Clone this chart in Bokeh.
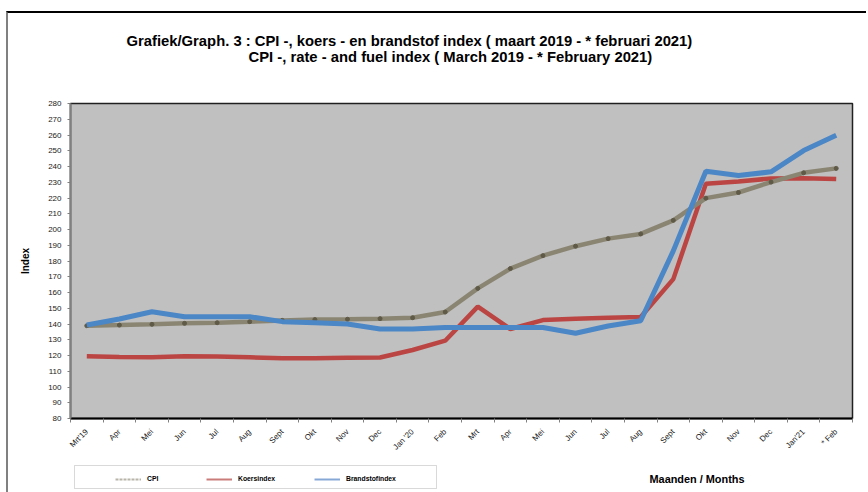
from bokeh.plotting import figure
from bokeh.layouts import column
from bokeh.models import (FixedTicker, Label, Legend, LegendItem, Range1d, BoxAnnotation)
from bokeh.embed import file_html
from bokeh.resources import INLINE
import math

months = ["Mrt'19", "Apr", "Mei", "Jun", "Jul", "Aug", "Sept", "Okt", "Nov", "Dec",
          "Jan '20", "Feb", "Mrt", "Apr", "Mei", "Jun", "Jul", "Aug", "Sept", "Okt",
          "Nov", "Dec", "Jan'21", "* Feb"]
cpi = [138.9, 139.3, 139.8, 140.4, 140.8, 141.5, 142.3, 142.8, 143.0, 143.4, 144.0, 147.6,
       162.6, 175.2, 183.4, 189.4, 194.2, 197.2, 205.8, 219.9, 223.5, 230.1, 236.0, 238.8]
koers = [119.5, 119.1, 118.9, 119.5, 119.3, 118.9, 118.2, 118.2, 118.5, 118.7, 123.5, 129.4,
         151.0, 136.8, 142.5, 143.4, 144.0, 144.4, 168.5, 229.0, 230.5, 232.4, 232.6, 232.0]
brandstof = [139.4, 143.2, 147.8, 144.6, 144.6, 144.6, 141.5, 140.8, 140.0, 136.8, 136.8, 137.7,
             137.7, 137.7, 137.8, 134.1, 138.7, 142.1, 186.4, 237.0, 234.3, 236.6, 250.1, 259.8]
y_ticks = list(range(80, 290, 10))
series_names = ["CPI", "Koersindex", "Brandstofindex"]
title_1 = "Grafiek/Graph. 3 : CPI -, koers - en brandstof index ( maart 2019  -  * februari 2021)"
title_2 = "CPI -, rate - and fuel index ( March 2019  -  * February 2021)"
x_title = "Maanden / Months"
y_title = "Index"

xs = list(range(len(months)))
FONT = "Liberation Sans"
W = 860
LEFT = 62
RIGHT = 16
NAN = float("nan")


def blank(height, styles):
    f = figure(width=W, height=height, output_backend="svg", toolbar_location=None,
               x_axis_type=None, y_axis_type=None,
               min_border_left=LEFT, min_border_right=RIGHT, min_border_top=0, min_border_bottom=0,
               x_range=Range1d(LEFT, W - RIGHT), y_range=Range1d(0, height))
    f.grid.visible = False
    f.outline_line_color = None
    f.background_fill_color = "white"
    f.border_fill_color = "white"
    f.styles = styles
    return f


# ---------- header with the titles ----------
HH = 59
header = blank(HH, {"margin-left": "6px", "border-left": "2px solid #808080",
                    "margin-top": "11px", "border-top": "2px solid #000000"})
header.y_range = Range1d(HH, 0)
header.add_layout(Label(x=118, y=27, text=title_1, text_font=FONT, text_font_size="14.8px",
                        text_font_style="bold", text_baseline="middle", text_color="black"))
header.add_layout(Label(x=240, y=43, text=title_2, text_font=FONT, text_font_size="14.8px",
                        text_font_style="bold", text_baseline="middle", text_color="black"))

# ---------- main chart ----------
p = figure(width=W, height=388, output_backend="svg", toolbar_location=None,
           x_range=Range1d(-0.5, len(months) - 0.5), y_range=Range1d(80, 280),
           min_border_left=LEFT, min_border_right=RIGHT, min_border_top=33, min_border_bottom=40)
p.styles = {"margin-left": "6px", "border-left": "2px solid #808080"}
p.background_fill_color = "#c0c0c0"
p.border_fill_color = "white"
p.outline_line_color = "#202020"
p.outline_line_width = 1.5
p.xgrid.visible = False
p.ygrid.visible = False

p.line(xs, koers, line_color="#bb4542", line_width=4.5)
p.line(xs, cpi, line_color="#8a8573", line_width=4.5)
p.scatter(xs, cpi, size=4, color="#5f5a48")
p.line(xs, brandstof, line_color="#4b86c6", line_width=5)

xa = p.xaxis[0]
xa.ticker = FixedTicker(ticks=xs, minor_ticks=[i - 0.5 for i in range(len(months) + 1)])
xa.major_label_overrides = {i: m for i, m in enumerate(months)}
xa.major_label_orientation = math.pi / 4
xa.major_label_text_font = FONT
xa.major_label_text_font_size = "8px"
xa.major_label_text_color = "#222222"
xa.major_label_standoff = 6
xa.major_tick_line_color = None
xa.minor_tick_line_color = "#808080"
xa.minor_tick_out = 4
xa.minor_tick_in = 0
xa.axis_line_color = "black"
xa.axis_line_width = 2

ya = p.yaxis[0]
ya.ticker = FixedTicker(ticks=y_ticks)
ya.minor_tick_line_color = None
ya.major_tick_out = 3
ya.major_tick_in = 0
ya.major_tick_line_color = "#808080"
ya.axis_line_color = "#808080"
ya.axis_line_width = 2
ya.major_label_text_font = FONT
ya.major_label_text_font_size = "8px"
ya.major_label_text_color = "#222222"
ya.major_label_standoff = 6
ya.axis_label = y_title
ya.axis_label_text_font = FONT
ya.axis_label_text_font_size = "10px"
ya.axis_label_text_font_style = "bold"
ya.axis_label_text_color = "black"
ya.axis_label_standoff = 14

# ---------- footer with legend ----------
FH = 34
footer = blank(FH, {"margin-left": "6px", "border-left": "2px solid #808080"})
footer.add_layout(BoxAnnotation(left=66, right=428, bottom=4, top=27,
                                fill_color="white", fill_alpha=1,
                                line_color="#808080", line_width=1))
r1 = footer.line([NAN], [NAN], line_color="#b8b4a8", line_width=2, line_dash="3 1")
r2 = footer.line([NAN], [NAN], line_color="#c97c7a", line_width=2)
r3 = footer.line([NAN], [NAN], line_color="#86a8d6", line_width=2)
legend = Legend(items=[LegendItem(label=series_names[0], renderers=[r1]),
                       LegendItem(label=series_names[1], renderers=[r2]),
                       LegendItem(label=series_names[2], renderers=[r3])],
                location=(107 - LEFT, 7.5), orientation="horizontal",
                padding=2, spacing=39, glyph_width=26, glyph_height=12,
                label_height=12, label_standoff=6,
                label_text_font=FONT, label_text_font_size="6.8px", label_text_font_style="bold",
                label_text_color="black",
                border_line_color=None, background_fill_alpha=0, margin=0)
footer.add_layout(legend)
footer.add_layout(Label(x=641, y=14, text=x_title, text_font=FONT, text_font_size="10.9px",
                        text_font_style="bold", text_baseline="middle", text_color="black"))

layout = column(header, p, footer, spacing=0)
open("out.html", "w").write(file_html(layout, INLINE))
